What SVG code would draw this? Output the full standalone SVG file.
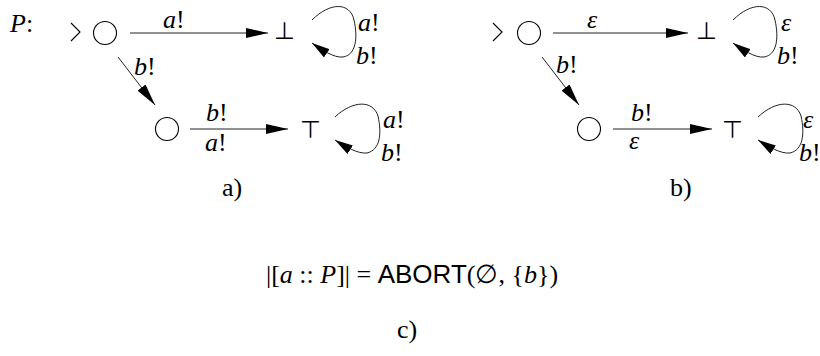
<svg xmlns="http://www.w3.org/2000/svg" width="820" height="356" viewBox="0 0 820 356">
<style>
text{font-family:"Liberation Serif","DejaVu Serif",serif;font-size:26px;fill:#000}
.i{font-style:italic}
.sans{font-family:"Liberation Sans","DejaVu Sans",sans-serif}
.sym{font-family:"DejaVu Sans",sans-serif;font-size:24px}
.st{fill:none;stroke:#000;stroke-width:1.1}
.ed{fill:none;stroke:#222;stroke-width:1}
</style>
<defs>
<marker id="ah" markerUnits="userSpaceOnUse" markerWidth="22" markerHeight="10" refX="22" refY="5" orient="auto" viewBox="0 0 22 10">
<path d="M0,0 L22,5 L0,10 z" fill="#000"/>
</marker>
<marker id="ahs" markerUnits="userSpaceOnUse" markerWidth="18" markerHeight="10" refX="18" refY="5" orient="auto" viewBox="0 0 18 10">
<path d="M0,0 L18,5 L0,10 z" fill="#000"/>
</marker>
</defs>
<text x="10" y="32" class="i">P<tspan font-style="normal">:</tspan></text>
<!-- a) -->
<g id="a-start"><path class="st" d="M71,23 L80,32 L71,41"/><circle class="st" cx="105" cy="33" r="11.5"/></g>
<g id="a-bot"><text x="274" y="39" class="sym">⊥</text></g>
<g id="a-mid"><circle class="st" cx="167" cy="129" r="11.5"/></g>
<g id="a-top"><text x="300" y="138" class="sym">⊤</text></g>
<!-- b) -->
<g id="b-start"><path class="st" d="M493,23 L502,32 L493,41"/><circle class="st" cx="529" cy="33" r="11.5"/></g>
<g id="b-bot"><text x="696" y="39" class="sym">⊥</text></g>
<g id="b-mid"><circle class="st" cx="589" cy="129" r="11.5"/></g>
<g id="b-top"><text x="722" y="138" class="sym">⊤</text></g>
<g id="connectors">
<path class="ed" d="M130,33 L268,33" marker-end="url(#ah)"/>
<path class="ed" d="M312,20 C330,2 350,2 354,20 C358,38 356,55 343,57 C334,58 322,50 312,43" marker-end="url(#ahs)"/>
<path class="ed" d="M118,57 L155,105" marker-end="url(#ah)"/>
<path class="ed" d="M190,129 L288,129" marker-end="url(#ah)"/>
<path class="ed" d="M335,117 C353,100 373,100 378,116 C382,134 380,150 367,153 C358,154 346,147 335,140" marker-end="url(#ahs)"/>
<path class="ed" d="M553,33 L688,33" marker-end="url(#ah)"/>
<path class="ed" d="M733,20 C751,2 771,2 775,20 C779,38 777,55 764,57 C755,58 743,50 733,43" marker-end="url(#ahs)"/>
<path class="ed" d="M542,57 L579,105" marker-end="url(#ah)"/>
<path class="ed" d="M613,129 L712,129" marker-end="url(#ah)"/>
<path class="ed" d="M758,117 C776,100 796,100 801,116 C805,134 803,150 790,153 C781,154 769,147 758,140" marker-end="url(#ahs)"/>
</g>
<g id="labels">
<text x="163" y="28" class="i">a<tspan font-style="normal">!</tspan></text>
<text x="358" y="31" class="i">a<tspan font-style="normal">!</tspan></text>
<text x="356" y="64" class="i">b<tspan font-style="normal">!</tspan></text>
<text x="134" y="75" class="i">b<tspan font-style="normal">!</tspan></text>
<text x="206" y="121" class="i">b<tspan font-style="normal">!</tspan></text>
<text x="205" y="151" class="i">a<tspan font-style="normal">!</tspan></text>
<text x="383" y="128" class="i">a<tspan font-style="normal">!</tspan></text>
<text x="381" y="161" class="i">b<tspan font-style="normal">!</tspan></text>
<text x="222" y="196">a)</text>
<text x="587" y="28" class="i">ε</text>
<text x="781" y="31" class="i">ε</text>
<text x="777" y="64" class="i">b<tspan font-style="normal">!</tspan></text>
<text x="556" y="73" class="i">b<tspan font-style="normal">!</tspan></text>
<text x="631" y="121" class="i">b<tspan font-style="normal">!</tspan></text>
<text x="629" y="149" class="i">ε</text>
<text x="803" y="128" class="i">ε</text>
<text x="799" y="161" class="i">b<tspan font-style="normal">!</tspan></text>
<text x="670" y="196">b)</text>
<text x="412" y="283" text-anchor="middle">|[<tspan class="i">a</tspan> :: <tspan class="i">P</tspan>]| = <tspan class="sans">ABORT</tspan>(∅, {<tspan class="i">b</tspan>})</text>
<text x="397" y="338">c)</text>
</g>
</svg>
